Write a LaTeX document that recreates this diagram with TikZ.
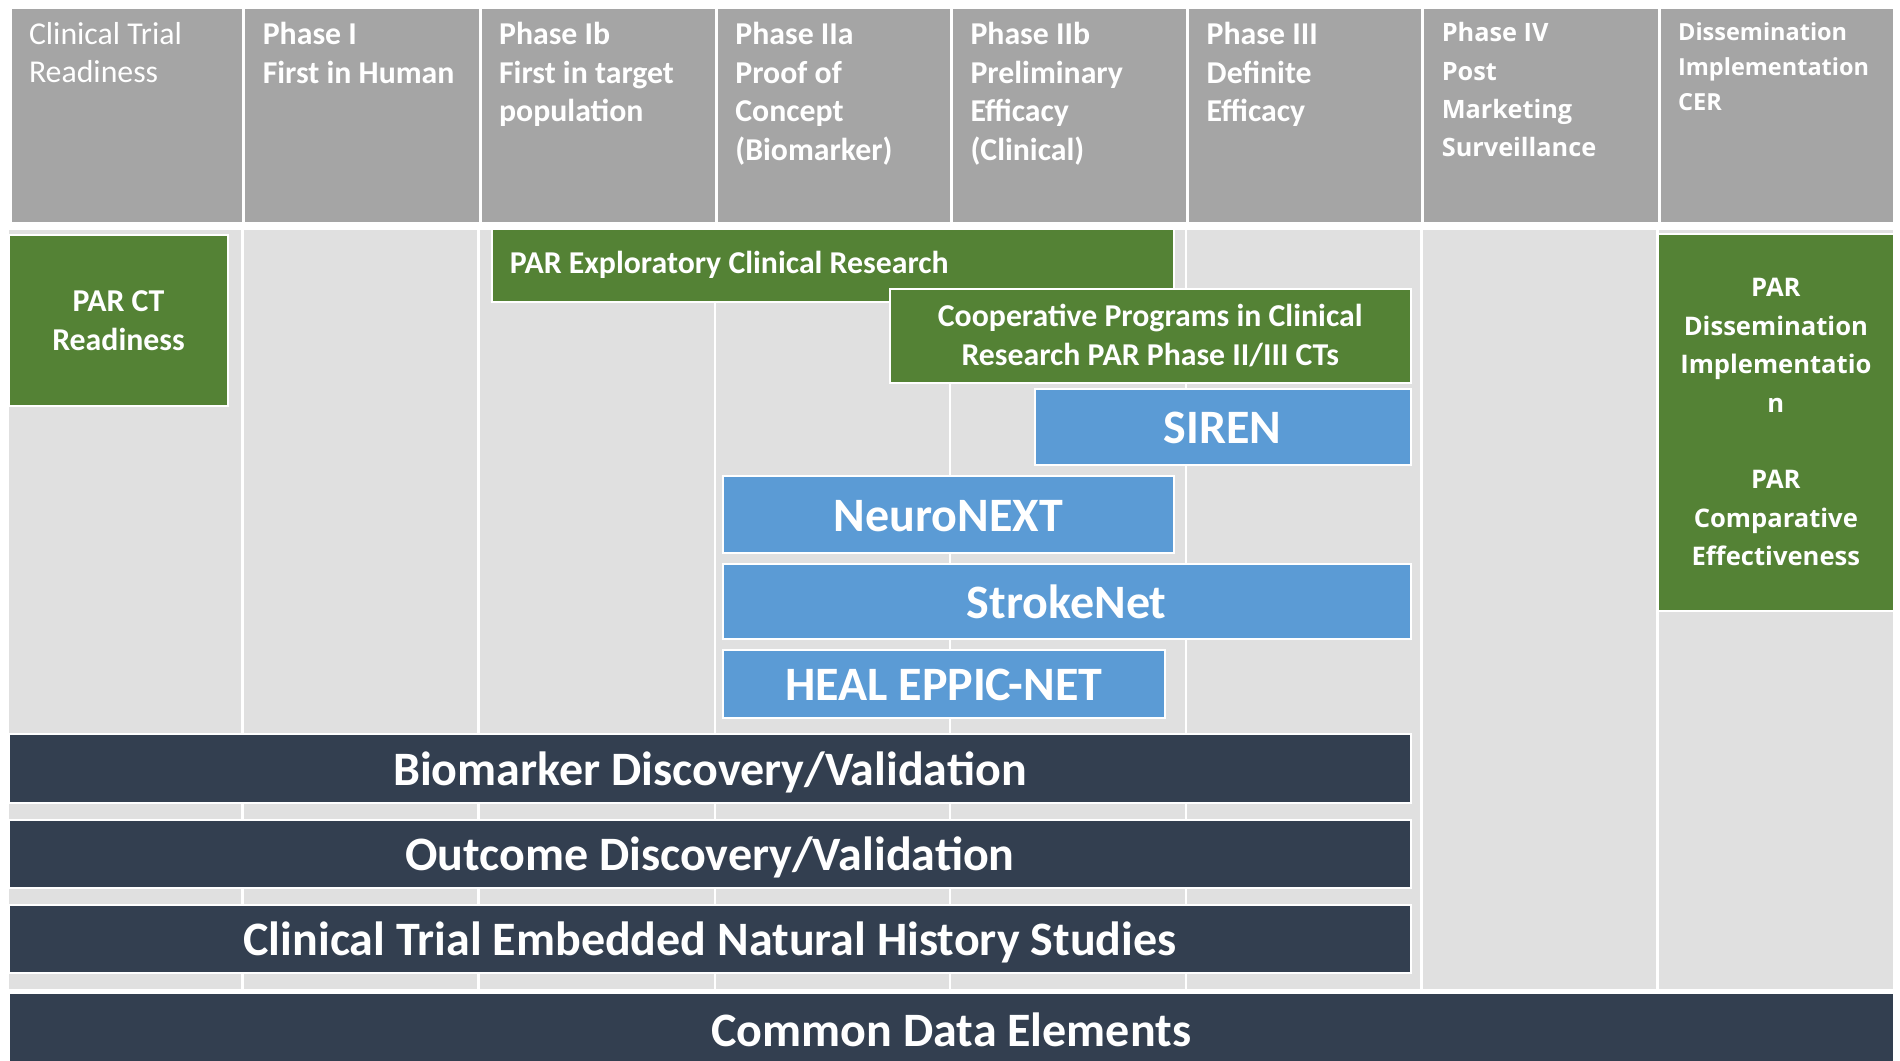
\documentclass[tikz,border=0pt]{standalone}
\usepackage{fontspec}
\setmainfont{Carlito}
\newfontfamily\opensans{Open Sans}
\usepackage{tikz}
\usepackage{xcolor}
\definecolor{headgray}{HTML}{A5A5A5}
\definecolor{bodygray}{HTML}{E0E0E0}
\definecolor{pargreen}{HTML}{548235}
\definecolor{netblue}{HTML}{5B9BD5}
\definecolor{navy}{HTML}{333F50}
\newcommand{\phasetext}[2]{\begin{minipage}[t][216pt][t]{#1}\vspace*{15pt}\raggedright\leftskip=19pt #2\end{minipage}}
\tikzset{
    head-box/.style = {draw=white, line width=3pt, fill=headgray, text=white, anchor=north west, inner sep=0pt, minimum height=216pt, font=\fontsize{31.8}{38.4}\selectfont\bfseries},
    green-box/.style = {draw=white, line width=1.5pt, fill=pargreen, text=white, anchor=north west, align=center, font=\fontsize{31.8}{39}\selectfont\bfseries},
    blue-box/.style = {draw=white, line width=1.5pt, fill=netblue, text=white, anchor=north west, text height=34pt, text depth=0pt, font=\fontsize{48}{58}\selectfont\bfseries},
    navy-box/.style = {draw=white, line width=1.5pt, fill=navy, text=white, anchor=north west, text height=34pt, text depth=0pt, font=\fontsize{48}{58}\selectfont\bfseries},
}

\begin{document}
\begin{tikzpicture}[x=1pt, y=-1pt]
\useasboundingbox (0,0) rectangle (1900,1060);
\fill[white] (0,0) rectangle (1900,1060);
% phase headers
\node[head-box, minimum width=233.8pt, font=\fontsize{31.8}{38.4}\selectfont] (readyhead) at (8.5,6) {\phasetext{233.8pt}{Clinical Trial\\Readiness}};
\node[head-box, minimum width=236.3pt] (phaseone) at (242.3,6) {\phasetext{236.3pt}{Phase I\\First in Human}};
\node[head-box, minimum width=236.3pt] (phaseoneb) at (478.6,6) {\phasetext{236.3pt}{Phase Ib\\First in target\\population}};
\node[head-box, minimum width=235.1pt] (phasetwoa) at (714.9,6) {\phasetext{235.1pt}{Phase IIa\\Proof of\\Concept\\(Biomarker)}};
\node[head-box, minimum width=236.2pt] (phasetwob) at (950,6) {\phasetext{236.2pt}{Phase IIb\\Preliminary\\Efficacy\\(Clinical)}};
\node[head-box, minimum width=235.1pt] (phasethree) at (1186.2,6) {\phasetext{235.1pt}{Phase III\\Definite\\Efficacy}};
\node[head-box, minimum width=236.3pt, font=\opensans\fontsize{25.3}{38.4}\selectfont\bfseries] (phasefour) at (1421.3,6) {\phasetext{236.3pt}{Phase IV\\Post\\Marketing\\Surveillance}};
\node[head-box, minimum width=235.1pt, font=\opensans\fontsize{23.5}{35}\selectfont\bfseries] (disshead) at (1657.6,6) {\phasetext{235.1pt}{Dissemination\\Implementation\\CER}};

% body columns
\fill[bodygray] (8.5,230) rectangle (1892.7,989);
\draw[white, line width=2.5pt] (242.3,230) -- (242.3,989) (478.6,230) -- (478.6,989)
    (714.9,230) -- (714.9,989) (950,230) -- (950,989) (1186.2,230) -- (1186.2,989)
    (1421.3,230) -- (1421.3,989) (1657.6,230) -- (1657.6,989);

% funding programs
\node[green-box, minimum width=218.5pt, minimum height=171pt] (parct) at (8.5,234) {PAR CT\\Readiness};
\node[green-box, minimum width=682pt, minimum height=73pt, text width=646pt, inner xsep=18pt, align=flush left] (parexp) at (491,228) {PAR Exploratory Clinical Research};
\node[green-box, minimum width=521pt, minimum height=94pt] (coop) at (889,288) {Cooperative Programs in Clinical\\Research PAR Phase II/III CTs};
\node[green-box, minimum width=235pt, minimum height=377pt, font=\opensans\fontsize{25.6}{38.4}\selectfont\bfseries] (pardiss) at (1657.6,233) {PAR\\Dissemination\\Implementatio\\n\\[38.4pt]PAR\\Comparative\\Effectiveness};

% networks
\node[blue-box, minimum width=376pt, minimum height=76pt] (siren) at (1034,388) {SIREN};
\node[blue-box, minimum width=451pt, minimum height=77pt] (neuronext) at (722,475) {NeuroNEXT};
\node[blue-box, minimum width=688pt, minimum height=75pt] (strokenet) at (722,563) {StrokeNet};
\node[blue-box, minimum width=442pt, minimum height=68pt] (eppicnet) at (722,649) {HEAL EPPIC-NET};

% cross-cutting resources
\node[navy-box, minimum width=1401.5pt, minimum height=69pt] (biomarker) at (8.5,733) {Biomarker Discovery/Validation};
\node[navy-box, minimum width=1401.5pt, minimum height=68pt] (outcome) at (8.5,819) {Outcome Discovery/Validation};
\node[navy-box, minimum width=1401.5pt, minimum height=68pt] (history) at (8.5,904) {Clinical Trial Embedded Natural History Studies};
\node[navy-box, minimum width=1884.2pt, minimum height=74pt] (cde) at (8.5,992) {Common Data Elements};
\end{tikzpicture}
\end{document}
